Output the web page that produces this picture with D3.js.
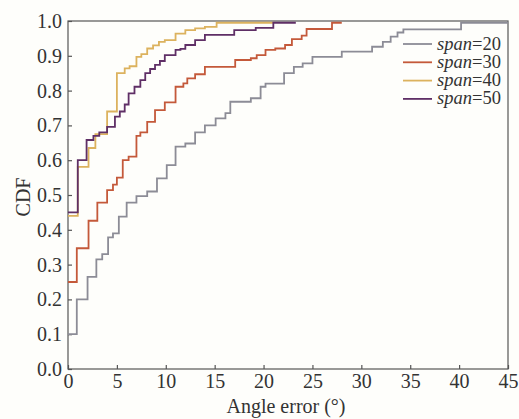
<!DOCTYPE html>
<html>
<head>
<meta charset="utf-8">
<script src="https://cdn.jsdelivr.net/npm/d3@7"></script>
<style>
  html, body { margin: 0; padding: 0; background: #fefefb; }
  svg { display: block; }
  text { font-family: "Liberation Serif", "Times New Roman", serif; fill: #333; }
</style>
</head>
<body>
<svg id="chart" width="519" height="419"></svg>
<script>
// ---- data ----
const xTicks = [0, 5, 10, 15, 20, 25, 30, 35, 40, 45];
const yTicks = [0, 0.1, 0.2, 0.3, 0.4, 0.5, 0.6, 0.7, 0.8, 0.9, 1.0];
const seriesNames = ["20", "30", "40", "50"];
const seriesColors = ["#8c8c96", "#c4593a", "#dcb25e", "#5f2f66"];

// [angle error, CDF] step points (step-after)
const span20 = [[0,0.10],[0.9,0.20],[2.0,0.265],[2.9,0.315],[3.5,0.33],[4.1,0.378],[4.6,0.39],[5.2,0.438],[6.0,0.478],[7.0,0.497],[8.1,0.51],[9.1,0.548],[10.1,0.586],[11.0,0.639],[12.0,0.648],[13.0,0.68],[14.0,0.70],[15.1,0.72],[16.1,0.735],[16.6,0.768],[18.7,0.778],[19.7,0.811],[20.2,0.82],[22.1,0.85],[23.1,0.868],[24.0,0.878],[25.0,0.897],[28.0,0.912],[31.1,0.926],[32.2,0.94],[33.0,0.955],[33.7,0.967],[34.3,0.976],[40.2,0.995],[45,0.995]];
const span30 = [[0,0.25],[0.9,0.347],[2.1,0.426],[3.0,0.478],[4.0,0.514],[4.6,0.53],[5.0,0.55],[5.6,0.60],[6.2,0.61],[7.0,0.67],[7.4,0.68],[8.1,0.71],[8.9,0.744],[9.9,0.766],[11.0,0.811],[11.8,0.821],[12.2,0.835],[13.0,0.847],[14.0,0.868],[17.1,0.888],[18.7,0.893],[19.3,0.902],[20.2,0.917],[21.2,0.921],[22.2,0.931],[22.9,0.948],[23.9,0.958],[24.4,0.977],[27.0,0.995],[28.0,0.995]];
const span40 = [[0,0.44],[1.0,0.581],[2.1,0.635],[2.8,0.675],[4.0,0.74],[5.0,0.85],[5.8,0.864],[6.3,0.87],[7.0,0.897],[7.5,0.905],[8.1,0.921],[8.7,0.93],[9.3,0.94],[9.9,0.945],[11.0,0.964],[12.0,0.974],[13.0,0.979],[14.0,0.983],[15.2,0.995],[21.0,0.995]];
const span50 = [[0,0.45],[1.0,0.60],[1.9,0.658],[2.6,0.67],[3.2,0.68],[4.0,0.696],[4.8,0.725],[5.3,0.74],[5.8,0.76],[6.2,0.792],[6.8,0.811],[7.4,0.83],[7.9,0.85],[8.4,0.862],[8.9,0.874],[9.4,0.885],[9.9,0.902],[11.0,0.917],[11.5,0.92],[12.0,0.931],[13.0,0.945],[14.0,0.96],[17.0,0.974],[19.2,0.98],[21.0,0.995],[23.3,0.995]];
const allSeries = [span20, span30, span40, span50];

// ---- layout ----
const W = 519, H = 419;
const margin = { top: 21, right: 11, bottom: 50, left: 68 };
const iw = W - margin.left - margin.right;
const ih = H - margin.top - margin.bottom;

const svg = d3.select("#chart");
const g = svg.append("g").attr("transform", `translate(${margin.left},${margin.top})`);

const x = d3.scaleLinear().domain([0, 45]).range([0, iw]);
const y = d3.scaleLinear().domain([0, 1]).range([ih, 0]);

// frame
g.append("rect").attr("x", 0).attr("y", 0).attr("width", iw).attr("height", ih)
  .attr("fill", "none").attr("stroke", "#555").attr("stroke-width", 1.2);

// axes with inward ticks
const xAxis = g.append("g").attr("transform", `translate(0,${ih})`)
  .call(d3.axisBottom(x).tickValues(xTicks).tickSizeInner(-4).tickSizeOuter(0).tickPadding(5).tickFormat(d3.format("d")));
const yAxis = g.append("g")
  .call(d3.axisLeft(y).tickValues(yTicks).tickSizeInner(-4).tickSizeOuter(0).tickPadding(6).tickFormat(d3.format(".1f")));
[xAxis, yAxis].forEach(a => {
  a.select(".domain").remove();
  a.selectAll(".tick line").attr("stroke", "#555").attr("stroke-width", 1.2);
  a.selectAll(".tick text").attr("font-family", "Liberation Serif, serif").attr("font-size", 20).attr("fill", "#333");
});

// curves
const line = d3.line().x(d => x(d[0])).y(d => y(d[1])).curve(d3.curveStepAfter);
allSeries.forEach((s, i) => {
  g.append("path").datum(s).attr("d", line)
    .attr("fill", "none").attr("stroke", seriesColors[i]).attr("stroke-width", 1.8);
});

// axis titles
svg.append("text").attr("x", margin.left + iw / 2 - 2).attr("y", 413)
  .attr("text-anchor", "middle").attr("font-size", 20).text("Angle error (°)");
svg.append("text").attr("transform", `translate(30,${margin.top + ih / 2 + 2}) rotate(-90)`)
  .attr("text-anchor", "middle").attr("font-size", 20).text("CDF");

// legend
const legend = svg.append("g");
seriesNames.forEach((n, i) => {
  const ly = 44 + i * 18.3;
  legend.append("line").attr("x1", 403).attr("x2", 432).attr("y1", ly).attr("y2", ly)
    .attr("stroke", seriesColors[i]).attr("stroke-width", 1.8);
  const t = legend.append("text").attr("x", 437).attr("y", ly + 5.5).attr("font-size", 18.5);
  t.append("tspan").attr("font-style", "italic").text("span");
  t.append("tspan").text("=" + n);
});
</script>
</body>
</html>
